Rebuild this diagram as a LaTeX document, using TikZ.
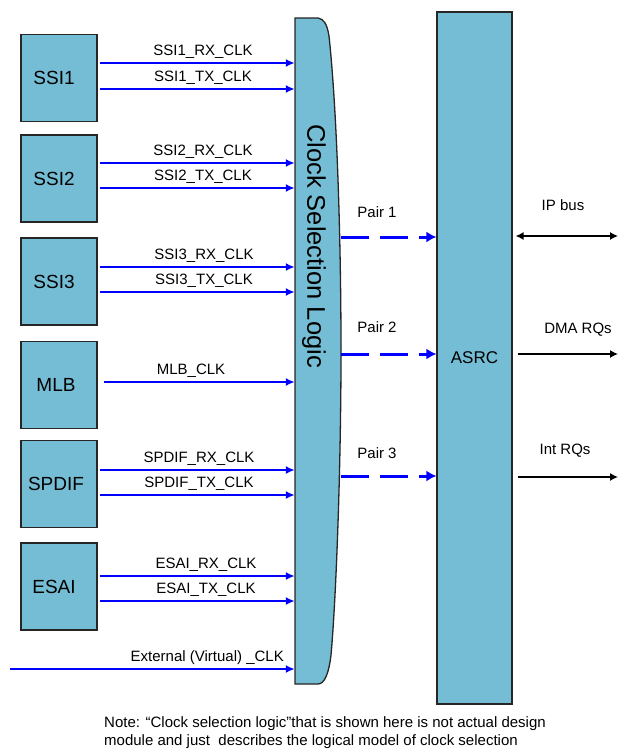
\documentclass[tikz,border=0pt]{standalone}
\usepackage{fontspec}
\setmainfont{Liberation Sans}
\usetikzlibrary{arrows.meta}
\definecolor{boxblue}{RGB}{116,189,212}
\newcommand{\lft}{\hspace*{10pt}}
\begin{document}
\begin{tikzpicture}[x=1pt,y=-1pt,
  blk/.style={draw=black!85, line width=1.2pt, fill=boxblue, minimum width=76pt, minimum height=87pt, inner sep=0pt, font=\fontsize{19}{20}\selectfont},
  clk/.style={blue, line width=1.8pt, shorten <=2pt, -{Latex[length=9pt,width=8pt]}},
  lbl/.style={font=\fontsize{15}{16}\selectfont, anchor=base, inner sep=0pt},
  pairarr/.style={blue, line width=3pt, dash pattern=on 28pt off 11pt, -{Latex[length=10pt,width=11pt]}},
  outarr/.style={black, line width=1.3pt, -{Latex[length=8pt,width=8pt]}},
  notetxt/.style={anchor=base west, inner sep=0pt, font=\fontsize{15}{18}\selectfont},
]
\useasboundingbox (0,0) rectangle (618,751);

% source blocks
\node[blk] (ssi1) at (59,78) {SSI1\lft};
\node[blk] (ssi2) at (59,178.5) {SSI2\lft};
\node[blk] (ssi3) at (59,281.5) {SSI3\lft};
\node[blk] (mlb) at (59,385) {MLB\hspace*{6pt}};
\node[blk] (spdif) at (59,484) {SPDIF\hspace*{6pt}};
\node[blk] (esai) at (59,586.5) {ESAI\lft};

% clock selection logic
\node[minimum width=46pt, minimum height=666pt, inner sep=0pt] (csl) at (318,351) {};
\draw[black!85, line width=1.3pt, fill=boxblue]
  (295,18) -- (318,18) .. controls (324,19) and (327,24) .. (329,36)
  .. controls (337,110) and (341,240) .. (341,351)
  .. controls (341,470) and (336,600) .. (331,655)
  .. controls (329,672) and (325,684) .. (318,684)
  -- (295,684) -- cycle;
\node[rotate=-90, font=\fontsize{25.5}{26}\selectfont, inner sep=0pt] (csltext) at (314,246) {Clock Selection Logic};

% ASRC
\node[draw=black!85, line width=1.2pt, fill=boxblue, minimum width=75pt, minimum height=692pt, inner sep=0pt, font=\fontsize{17}{18}\selectfont] (asrc) at (474.5,358) {ASRC};

% clock inputs
\draw[clk] (ssi1.east |- 0,63) -- (csl.west |- 0,63);
\draw[clk] (ssi1.east |- 0,89) -- (csl.west |- 0,89);
\node[lbl] (l1r) at (203,55.5) {SSI1\_RX\_CLK};
\node[lbl] (l1t) at (203,81.5) {SSI1\_TX\_CLK};

\draw[clk] (ssi2.east |- 0,163) -- (csl.west |- 0,163);
\draw[clk] (ssi2.east |- 0,188) -- (csl.west |- 0,188);
\node[lbl] (l2r) at (203,155.5) {SSI2\_RX\_CLK};
\node[lbl] (l2t) at (203,180.5) {SSI2\_TX\_CLK};

\draw[clk] (ssi3.east |- 0,267) -- (csl.west |- 0,267);
\draw[clk] (ssi3.east |- 0,292) -- (csl.west |- 0,292);
\node[lbl] (l3r) at (204,259.5) {SSI3\_RX\_CLK};
\node[lbl] (l3t) at (204,284.5) {SSI3\_TX\_CLK};

\draw[clk, shorten <=6pt] (mlb.east |- 0,382) -- (csl.west |- 0,382);
\node[lbl] (lm) at (191,374) {MLB\_CLK};

\draw[clk] (spdif.east |- 0,470) -- (csl.west |- 0,470);
\draw[clk] (spdif.east |- 0,495) -- (csl.west |- 0,495);
\node[lbl] (lsr) at (199,462.5) {SPDIF\_RX\_CLK};
\node[lbl] (lst) at (199,487.5) {SPDIF\_TX\_CLK};

\draw[clk] (esai.east |- 0,576) -- (csl.west |- 0,576);
\draw[clk] (esai.east |- 0,601) -- (csl.west |- 0,601);
\node[lbl] (ler) at (206,568.5) {ESAI\_RX\_CLK};
\node[lbl] (let) at (206,593.5) {ESAI\_TX\_CLK};

\coordinate (ext) at (10,669);
\draw[clk, shorten <=0pt] (ext) -- (csl.west |- ext);
\node[lbl, anchor=base east] (lext) at (284,661.5) {External (Virtual) \_CLK};

% pairs
\draw[pairarr] (csl.east |- 0,237) -- (asrc.west |- 0,237);
\draw[pairarr] (csl.east |- 0,354) -- (asrc.west |- 0,354);
\draw[pairarr] (csl.east |- 0,476) -- (asrc.west |- 0,476);
\node[lbl] (p1) at (377,217.5) {Pair 1};
\node[lbl] (p2) at (377,332.5) {Pair 2};
\node[lbl] (p3) at (377,458.5) {Pair 3};

% outputs
\coordinate (ipend) at (618,236);
\coordinate (dmaend) at (618,354);
\coordinate (intend) at (618,477);
\draw[outarr, {Latex[length=8pt,width=8pt]}-{Latex[length=8pt,width=8pt]}, shorten <=3pt] (asrc.east |- ipend) -- (ipend);
\draw[outarr, shorten <=5pt] (asrc.east |- dmaend) -- (dmaend);
\draw[outarr, shorten <=5pt] (asrc.east |- intend) -- (intend);
\node[lbl] (lip) at (563,210.5) {IP bus};
\node[lbl] (ldma) at (578,333.5) {DMA RQs};
\node[lbl] (lint) at (565,454.5) {Int RQs};

% note
\node[notetxt] (note1) at (104,727) {Note: “Clock selection logic”that is shown here is not actual design};
\node[notetxt] (note2) at (104,745) {module and just\ \ describes the logical model of clock selection};
\end{tikzpicture}
\end{document}
